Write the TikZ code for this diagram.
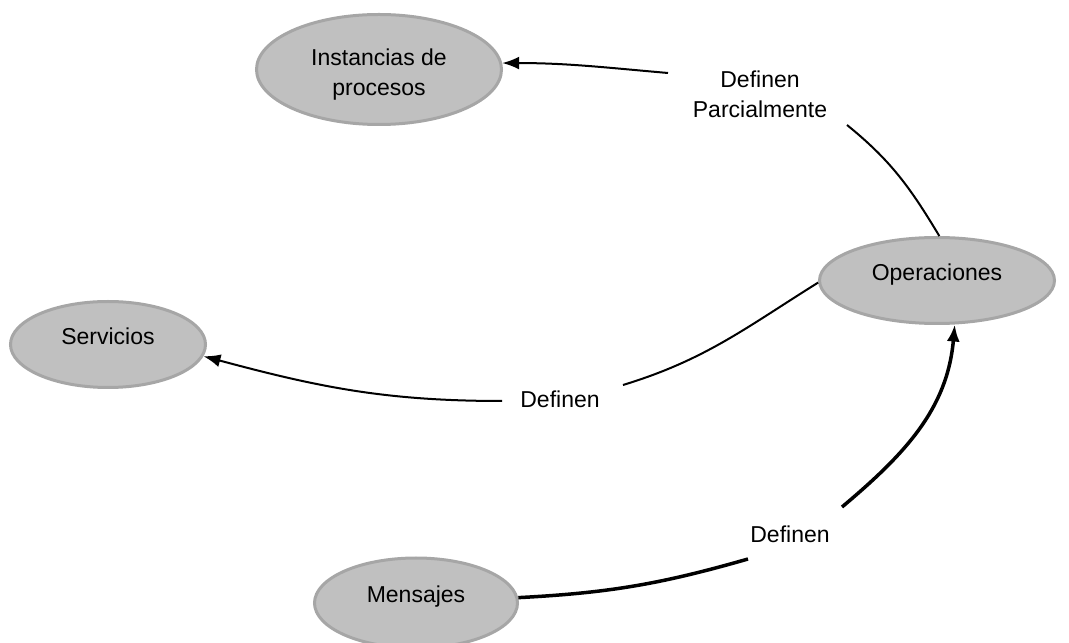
\documentclass[tikz,border=0pt]{standalone}
\usepackage{fontspec}
\setmainfont{Liberation Sans}
\usetikzlibrary{shapes.geometric,arrows.meta}
\definecolor{conceptfill}{HTML}{C0C0C0}
\definecolor{conceptedge}{HTML}{A6A6A6}
\begin{document}
\begin{tikzpicture}[x=1pt,y=1pt,
  concept/.style={ellipse, draw=conceptedge, fill=conceptfill, line width=3pt, inner sep=0pt},
  caption/.style={font=\fontsize{23}{30}\selectfont, align=center, inner sep=0pt},
  plainline/.style={line width=2pt},
  heavyline/.style={line width=3.5pt},
  tip/.style={-{Latex[length=17pt,width=13pt]}}
]
\useasboundingbox (0,0) rectangle (1069,643);

% concepts
\node[concept, minimum width=245pt, minimum height=110pt] (inst) at (379,573.5) {};
\node[caption] (instT) at (379,568) {Instancias de\\procesos};

\node[concept, minimum width=195pt, minimum height=86pt] (serv) at (108,298.5) {};
\node[caption] (servT) at (108,307) {Servicios};

\node[concept, minimum width=235pt, minimum height=86pt] (op) at (937,362.5) {};
\node[caption] (opT) at (937,368) {Operaciones};

\node[concept, minimum width=203pt, minimum height=90pt] (mens) at (416,40) {};
\node[caption] (mensT) at (416,46) {Mensajes};

% relation labels
\node[caption] (lbl1) at (760,549) {Definen\\Parcialmente};
\node[caption] (lbl2) at (560,244) {Definen};
\node[caption] (lbl3) at (790,109) {Definen};

% gap ends around the relation labels
\coordinate (c1) at (847,518);
\coordinate (c2) at (668,570);
\coordinate (c3) at (623,258);
\coordinate (c4) at (502,242);
\coordinate (c5) at (748,84);
\coordinate (c6) at (842,136);

% Operaciones -> Instancias de procesos
\draw[plainline] (op.87) to[out=121,in=-39] (c1);
\draw[plainline,tip] (c2) to[out=175,in=0] (inst.3);

% Operaciones -> Servicios
\draw[plainline] (op.181) to[out=212,in=17] (c3);
\draw[plainline,tip] (c4) to[out=180,in=-15] (serv.-7);

% Mensajes -> Operaciones
\draw[heavyline] (mens.3) to[out=3,in=196] (c5);
\draw[heavyline,tip] (c6) to[out=40,in=265] (op.292);
\end{tikzpicture}
\end{document}
